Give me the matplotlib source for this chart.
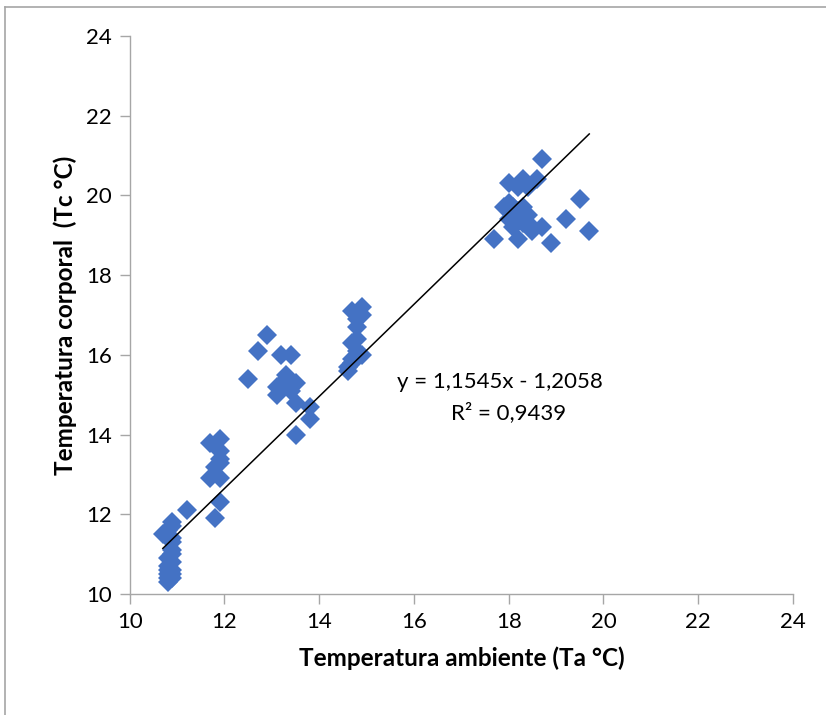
import matplotlib.pyplot as plt
from matplotlib.lines import Line2D

plt.rcParams['font.family'] = ['Lato', 'DejaVu Sans']

# Temperatura ambiente (Ta) and corporal (Tc) readings
ta = [10.7, 10.8, 10.9, 10.9, 10.9, 10.9, 10.9, 10.9, 10.8, 10.9, 10.8, 10.9,
      10.8, 10.8, 10.9, 10.8, 10.8, 10.9, 11.2,
      11.7, 11.9, 11.9, 11.9, 11.8, 11.9, 11.7, 11.9, 11.9, 11.8,
      12.5, 12.7, 12.9, 13.2, 13.4, 13.3, 13.1, 13.5, 13.1, 13.4, 13.5,
      13.8, 13.8, 13.5, 13.3,
      14.9, 14.7, 14.8, 14.8, 14.8, 14.7, 14.8, 14.9, 14.7, 14.6, 14.6, 14.9,
      14.7,
      18.7, 18.0, 18.3, 18.6, 18.4, 18.2, 19.5, 18.0, 17.9, 18.1, 18.3, 18.4,
      18.0, 19.2, 18.3, 18.7, 18.5, 19.7, 17.7, 18.2, 18.9, 18.1, 18.5, 18.2]
tc = [11.5, 11.6, 11.8, 11.7, 11.4, 11.3, 11.1, 11.0, 10.9, 10.8, 10.7, 10.6,
      10.6, 10.5, 10.5, 10.4, 10.3, 10.4, 12.1,
      13.8, 13.9, 13.6, 13.4, 13.2, 13.3, 12.9, 12.9, 12.3, 11.9,
      15.4, 16.1, 16.5, 16.0, 16.0, 15.4, 15.2, 15.3, 15.0, 15.1, 14.8,
      14.7, 14.4, 14.0, 15.5,
      17.2, 17.1, 16.9, 16.7, 16.4, 16.3, 16.1, 16.0, 15.9, 15.6, 15.7, 17.0,
      15.8,
      20.9, 20.3, 20.4, 20.4, 20.2, 20.2, 19.9, 19.8, 19.7, 19.7, 19.7, 19.5,
      19.4, 19.4, 19.3, 19.2, 19.1, 19.1, 18.9, 18.9, 18.8, 19.2, 19.2, 19.6]

# linear trendline shown on the chart
slope = 1.1545
intercept = -1.2058
r2 = 0.9439

x_ticks = [10, 12, 14, 16, 18, 20, 22, 24]
y_ticks = [10, 12, 14, 16, 18, 20, 22, 24]

fig = plt.figure(figsize=(8.26, 7.15), dpi=100)
ax = fig.add_axes([0.157, 0.169, 0.803, 0.781])

ax.plot(ta, tc, linestyle='none', marker='D', markersize=10.5,
        color='#4472C4', markeredgewidth=0, zorder=2)

x_fit = [min(ta), max(ta)]
y_fit = [slope * v + intercept for v in x_fit]
ax.plot(x_fit, y_fit, color='black', lw=1.1, zorder=3)

eq = f'y = {slope:.4f}x - {abs(intercept):.4f}'.replace('.', ',')
r2_txt = f'R² = {r2:.4f}'.replace('.', ',')
ax.text(17.82, 15.31, eq, ha='center', va='center', fontsize=16)
ax.text(18.0, 14.54, r2_txt, ha='center', va='center', fontsize=16)

ax.set_xlim(10, 24)
ax.set_ylim(10, 24)
ax.set_xticks(x_ticks)
ax.set_yticks(y_ticks)
ax.tick_params(axis='both', direction='out', length=7, width=1,
               color='#a6a6a6', labelsize=16, pad=6)
for side in ['top', 'right']:
    ax.spines[side].set_visible(False)
for side in ['left', 'bottom']:
    ax.spines[side].set_color('#a6a6a6')
    ax.spines[side].set_linewidth(1)

ax.set_xlabel('Temperatura ambiente (Ta °C)', fontsize=17.5,
              fontweight='bold', labelpad=10)
ax.set_ylabel('Temperatura corporal  (Tc °C)', fontsize=17.5,
              fontweight='bold', labelpad=6)

# chart area border
fig.add_artist(Line2D([0.006, 0.006], [0, 0.99], transform=fig.transFigure,
                      color='#a6a6a6', lw=1.2))
fig.add_artist(Line2D([0.006, 1.0], [0.99, 0.99], transform=fig.transFigure,
                      color='#a6a6a6', lw=1.2))

fig.savefig('out.png', dpi=100)
